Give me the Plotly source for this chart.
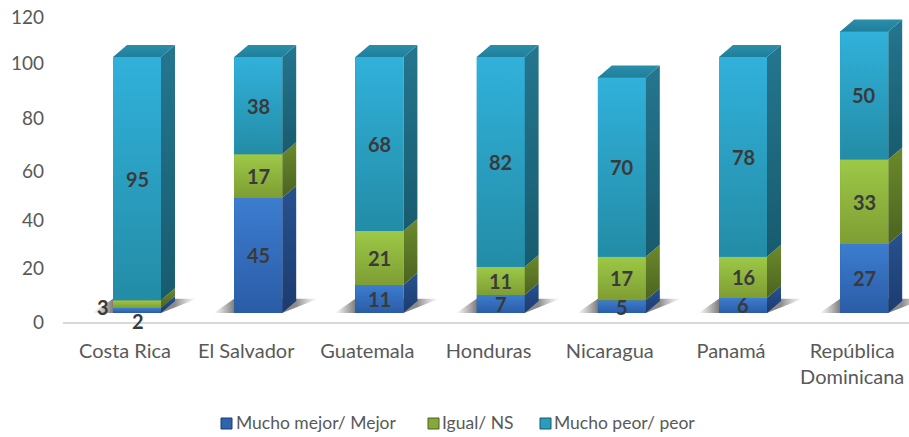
"""3D-look stacked columns: front faces are bars, depth faces are drawn from the same stack."""

import plotly.graph_objects as go

# ── Data ────────────────────────────────────────────────────────────────────

COUNTRIES = ["Costa Rica", "El Salvador", "Guatemala", "Honduras",
             "Nicaragua", "Panamá", "República<br>Dominicana"]
SERIES = ["Mucho mejor/ Mejor", "Igual/ NS", "Mucho peor/ peor"]
MEJOR = [2, 45, 11, 7, 5, 6, 27]
IGUAL = [3, 17, 21, 11, 17, 16, 33]
PEOR = [95, 38, 68, 82, 70, 78, 50]
Y_LABELS = ["0", "20", "40", "60", "80", "100", "120"]

# ── Look ────────────────────────────────────────────────────────────────────

FONT = "Lato, 'Open Sans', sans-serif"
INK = "#595959"
LABEL_INK = "#3A3A3A"

PX_X = 121.2   # pixels per category
PX_Y = 2.56    # pixels per value unit
BAR_W = 48 / PX_X
DX = 14 / PX_X
DY = 12 / PX_Y

# (front bottom, front top, side bottom, side top, swatch)
COLORS = [
    ("#2A5CA6", "#3C7DD0", "#1C3B70", "#27528F", "#2F63AE"),
    ("#7E9D33", "#9DC947", "#4B6320", "#6C8A2B", "#86A83A"),
    ("#238CA6", "#31B1DB", "#185B6E", "#24768F", "#2A9CBD"),
]
TOP_FACE = ("#1F7F9B", "#2A8EAB")

# the printed axis labels drift a little against the bars' own scale
Y_LABEL_POS = [-3.5, 17.6, 36.3, 55.5, 76.2, 97.7, 115.6]
# outlying data labels of the thin Costa Rica segments: (series, country) -> pixel shift
LABEL_SHIFT = {(0, 0): (1, -11), (1, 0): (-34, -3)}

VALUES = [MEJOR, IGUAL, PEOR]
x_pos = list(range(len(COUNTRIES)))


def grad(low, high):
    return dict(type="vertical", colorscale=[[0, low], [1, high]])


def face(xs, ys, gradient):
    return go.Scatter(x=xs, y=ys, mode="lines", line=dict(width=0), fill="toself",
                      fillgradient=gradient, hoverinfo="skip", showlegend=False)


fig = go.Figure()

# plain bars carry the values; gradient faces go on top of them
for name, vals, col in zip(SERIES, VALUES, COLORS):
    fig.add_trace(go.Bar(x=x_pos, y=vals, name=name, width=BAR_W,
                         marker=dict(color=col[4], line=dict(width=0)), showlegend=False))

# ground shadows
for i in x_pos:
    x0, x1 = i - BAR_W / 2, i + BAR_W / 2
    fig.add_trace(go.Scatter(
        x=[x0 - 0.17, x1, x1 + DX + 0.18, x0, x0 - 0.17],
        y=[0, 0, DY * 1.2, DY * 1.2, 0],
        mode="lines", line=dict(width=0), fill="toself",
        fillgradient=dict(type="horizontal", colorscale=[
            [0, "rgba(110,110,110,0)"], [0.2, "rgba(90,90,90,0.8)"],
            [0.79, "rgba(90,90,90,0.7)"], [1, "rgba(150,150,150,0)"]]),
        hoverinfo="skip", showlegend=False))

# faces of each stacked segment
for i in x_pos:
    x0, x1 = i - BAR_W / 2, i + BAR_W / 2
    lo = 0
    for vals, col in zip(VALUES, COLORS):
        hi = lo + vals[i]
        fig.add_trace(face([x1, x1 + DX, x1 + DX, x1, x1],
                           [lo, lo + DY, hi + DY, hi, lo], grad(col[2], col[3])))
        fig.add_trace(face([x0, x1, x1, x0, x0], [lo, lo, hi, hi, lo], grad(col[0], col[1])))
        lo = hi
    fig.add_trace(face([x0, x1, x1 + DX, x0 + DX, x0],
                       [lo, lo, lo + DY, lo + DY, lo], grad(*TOP_FACE)))

# data labels
annotations = []
for s, vals in enumerate(VALUES):
    for i in x_pos:
        below = sum(VALUES[k][i] for k in range(s))
        xs, ys = LABEL_SHIFT.get((s, i), (0, 0))
        annotations.append(dict(x=i, y=below + vals[i] / 2, text=str(vals[i]), showarrow=False,
                                xshift=xs, yshift=ys,
                                font=dict(family=FONT, size=20, color=LABEL_INK, weight="bold")))

# legend row
LEGEND_SWATCH_X = [221, 428, 540]
LEGEND_TEXT_X = [234, 440, 552]
shapes = []
for name, col, sx, tx in zip(SERIES, COLORS, LEGEND_SWATCH_X, LEGEND_TEXT_X):
    shapes.append(dict(type="rect", xref="paper", yref="paper", layer="above",
                       x0=(sx - 63) / 846, x1=(sx + 11 - 63) / 846,
                       y0=(322 - 429) / 322, y1=(322 - 418) / 322,
                       fillcolor=col[4], line=dict(color=col[2], width=1)))
    annotations.append(dict(xref="paper", yref="paper", x=(tx - 63) / 846, y=(322 - 423) / 322,
                            xanchor="left", yanchor="middle", text=name, showarrow=False,
                            font=dict(family=FONT, size=17.5, color=INK)))

fig.update_layout(
    width=909, height=437,
    margin=dict(l=63, r=0, t=0, b=115),
    paper_bgcolor="white", plot_bgcolor="white",
    barmode="stack", showlegend=False,
    font=dict(family=FONT, color=INK),
    annotations=annotations, shapes=shapes,
    xaxis=dict(range=[(63 - 137) / PX_X, (909 - 137) / PX_X], showgrid=False, zeroline=False,
               tickmode="array", tickvals=[i - 12 / PX_X for i in x_pos], ticktext=COUNTRIES,
               tickangle=0, ticks="", ticklabelstandoff=10,
               tickfont=dict(family=FONT, size=20, color=INK),
               showline=True, linecolor="#D9D9D9", linewidth=1.5),
    yaxis=dict(range=[-3.5, 313 / PX_Y], showgrid=False, zeroline=False, showline=False,
               tickmode="array", tickvals=Y_LABEL_POS, ticktext=Y_LABELS,
               ticks="", ticklabelstandoff=18,
               tickfont=dict(family=FONT, size=19, color=INK)),
)

# page body margin would push the fixed-size figure out of the window
fig.write_html("out.html", config=dict(displayModeBar=False),
               post_script="document.body.style.margin='0';document.body.style.overflow='hidden';")
